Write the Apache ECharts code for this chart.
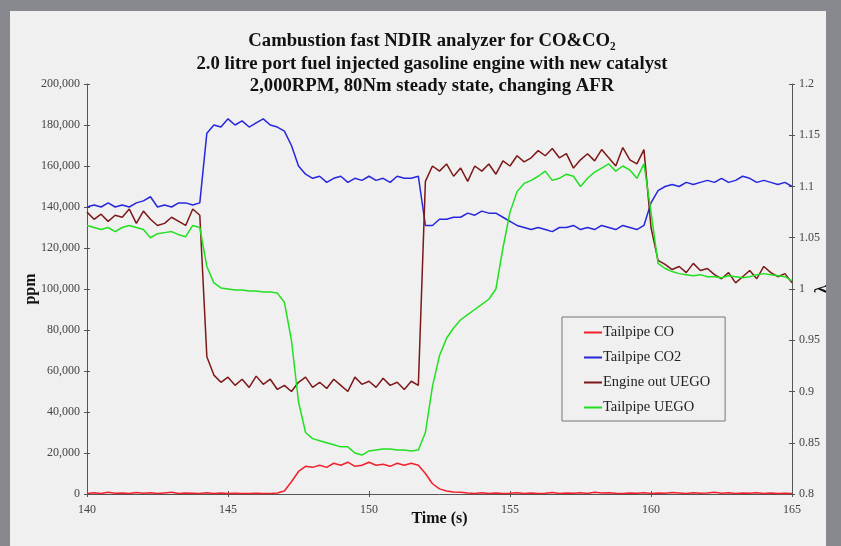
<!DOCTYPE html>
<html>
<head>
<meta charset="utf-8">
<script src="https://cdn.jsdelivr.net/npm/echarts@6/dist/echarts.min.js"></script>
<style>
  html, body { margin: 0; padding: 0; background: #88898e; overflow: hidden; }
  #chart { width: 841px; height: 546px; }
</style>
</head>
<body>
<div id="chart"></div>
<script>
// sample times (s), 0.25 s apart
var times = [
  140.00, 140.25, 140.50, 140.75, 141.00, 141.25, 141.50, 141.75, 142.00, 142.25,
  142.50, 142.75, 143.00, 143.25, 143.50, 143.75, 144.00, 144.25, 144.50, 144.75,
  145.00, 145.25, 145.50, 145.75, 146.00, 146.25, 146.50, 146.75, 147.00, 147.25,
  147.50, 147.75, 148.00, 148.25, 148.50, 148.75, 149.00, 149.25, 149.50, 149.75,
  150.00, 150.25, 150.50, 150.75, 151.00, 151.25, 151.50, 151.75, 152.00, 152.25,
  152.50, 152.75, 153.00, 153.25, 153.50, 153.75, 154.00, 154.25, 154.50, 154.75,
  155.00, 155.25, 155.50, 155.75, 156.00, 156.25, 156.50, 156.75, 157.00, 157.25,
  157.50, 157.75, 158.00, 158.25, 158.50, 158.75, 159.00, 159.25, 159.50, 159.75,
  160.00, 160.25, 160.50, 160.75, 161.00, 161.25, 161.50, 161.75, 162.00, 162.25,
  162.50, 162.75, 163.00, 163.25, 163.50, 163.75, 164.00, 164.25, 164.50, 164.75,
  165.00
];

// ppm
var tailpipeCO = [
  300, 600, 200, 800, 400, 500, 300, 700, 400, 600,
  200, 500, 800, 300, 500, 400, 200, 600, 300, 500,
  200, 400, 300, 200, 400, 300, 300, 500, 1500, 6000,
  11000, 13500, 13000, 14000, 13000, 15000, 14000, 15500, 13500, 14000,
  15500, 14000, 14500, 13500, 15000, 14000, 15000, 14000, 10000, 5000,
  2500, 1500, 1000, 800, 500, 300, 600, 200, 500, 300,
  400, 600, 200, 500, 300, 400, 700, 300, 500, 400,
  600, 300, 800, 500, 600, 400, 300, 500, 400, 600,
  300, 500, 400, 700, 500, 300, 600, 400, 500, 800,
  400, 600, 300, 500, 400, 600, 300, 500, 200, 400,
  300
];

var tailpipeCO2 = [
  140000, 141000, 140000, 142000, 140000, 141000, 140000, 142000, 143000, 145000,
  140000, 141000, 140000, 142000, 142000, 141000, 142000, 176000, 180000, 179000,
  183000, 180000, 182000, 179000, 181000, 183000, 180000, 179000, 177000, 170000,
  160000, 156000, 154000, 155000, 152000, 154000, 155000, 152000, 154000, 153000,
  155000, 153000, 154000, 152000, 155000, 154000, 154000, 155000, 131000, 131000,
  134000, 134000, 135000, 135000, 137000, 136000, 138000, 137000, 137000, 135000,
  133000, 131000, 130000, 129000, 130000, 129000, 128000, 130000, 130000, 131000,
  129000, 130000, 129000, 131000, 130000, 129000, 131000, 130000, 129000, 131000,
  142000, 148000, 150000, 151000, 150000, 152000, 151000, 152000, 153000, 152000,
  154000, 152000, 153000, 155000, 154000, 152000, 153000, 152000, 151000, 152000,
  150000
];

// lambda
var engineOutUEGO = [
  1.075, 1.068, 1.073, 1.066, 1.072, 1.070, 1.078, 1.064, 1.076, 1.068,
  1.062, 1.064, 1.070, 1.066, 1.062, 1.078, 1.072, 0.934, 0.916, 0.909,
  0.914, 0.906, 0.912, 0.904, 0.915, 0.907, 0.912, 0.902, 0.906, 0.900,
  0.909, 0.914, 0.904, 0.909, 0.903, 0.912, 0.906, 0.900, 0.914, 0.907,
  0.910, 0.904, 0.913, 0.906, 0.909, 0.902, 0.910, 0.906, 1.105, 1.120,
  1.115, 1.122, 1.110, 1.118, 1.105, 1.120, 1.115, 1.122, 1.112, 1.125,
  1.120, 1.130, 1.124, 1.128, 1.135, 1.130, 1.137, 1.128, 1.132, 1.118,
  1.126, 1.132, 1.125, 1.136, 1.128, 1.120, 1.138, 1.126, 1.122, 1.136,
  1.060, 1.028, 1.024, 1.019, 1.022, 1.016, 1.025, 1.018, 1.020, 1.014,
  1.010, 1.016, 1.006, 1.012, 1.018, 1.010, 1.022, 1.016, 1.012, 1.015,
  1.006
];

var tailpipeUEGO = [
  1.062, 1.060, 1.058, 1.060, 1.056, 1.060, 1.062, 1.060, 1.058, 1.050,
  1.054, 1.055, 1.056, 1.053, 1.051, 1.062, 1.060, 1.022, 1.006, 1.001,
  1.000, 0.999, 0.999, 0.998, 0.998, 0.997, 0.997, 0.996, 0.987, 0.950,
  0.890, 0.860, 0.854, 0.852, 0.850, 0.848, 0.846, 0.846, 0.840, 0.838,
  0.842, 0.843, 0.844, 0.844, 0.843, 0.843, 0.842, 0.843, 0.860, 0.905,
  0.935, 0.952, 0.962, 0.970, 0.975, 0.980, 0.985, 0.990, 1.000, 1.040,
  1.075, 1.095, 1.103, 1.106, 1.110, 1.115, 1.106, 1.108, 1.112, 1.110,
  1.100, 1.108, 1.114, 1.118, 1.122, 1.115, 1.120, 1.116, 1.108, 1.122,
  1.075, 1.025, 1.020, 1.017, 1.015, 1.014, 1.013, 1.014, 1.012, 1.012,
  1.011, 1.013, 1.012, 1.011, 1.012, 1.014, 1.015, 1.014, 1.013, 1.012,
  1.008
];

var seriesNames = ['Tailpipe CO', 'Tailpipe CO2', 'Engine out UEGO', 'Tailpipe UEGO'];
var seriesColors = ['#f0202c', '#2626dc', '#7c1818', '#20e020'];

var titleLines = [
  'Cambustion fast NDIR analyzer for CO&CO\u2082',
  '2.0 litre port fuel injected gasoline engine with new catalyst',
  '2,000RPM, 80Nm steady state, changing AFR'
];

function pairs(vals) {
  return vals.map(function (v, i) { return [times[i], v]; });
}

var serif = '"Liberation Serif", "DejaVu Serif", serif';

var myChart = echarts.init(document.getElementById('chart'));

var tickLabel = { fontFamily: serif, fontSize: 12, color: '#444' };
var axisLine = { show: true, lineStyle: { color: '#555', width: 1 } };
var nameStyle = { fontFamily: serif, fontSize: 16, fontWeight: 'bold', color: '#111' };

var option = {
  backgroundColor: 'transparent',
  animation: false,
  graphic: [
    { type: 'rect', z: -10, shape: { x: 10, y: 11, width: 816, height: 540 }, style: { fill: '#f0f0f0' } }
  ],
  title: {
    text: titleLines.join('\n'),
    left: 427,
    top: 25,
    textAlign: 'center',
    textStyle: { fontFamily: serif, fontSize: 18.7, fontWeight: 'bold', color: '#111', lineHeight: 22.5 }
  },
  legend: {
    data: seriesNames,
    orient: 'vertical',
    left: 562,
    top: 317,
    padding: [8, 15, 6, 22],
    itemGap: 10,
    itemWidth: 18,
    itemHeight: 2,
    icon: 'rect',
    borderColor: '#777',
    borderWidth: 1,
    textStyle: { fontFamily: serif, fontSize: 14.5, color: '#222', padding: [0, 0, 0, -4] }
  },
  grid: { left: 87, right: 49, top: 84, bottom: 52, containLabel: false, outerBoundsMode: 'none' },
  xAxis: [
    {
      type: 'value', min: 140, max: 165, interval: 5,
      name: 'Time (s)', nameLocation: 'middle', nameGap: 17, nameMoveOverlap: false,
      nameTextStyle: nameStyle,
      axisLine: axisLine,
      axisTick: { show: true, length: 3, lineStyle: { color: '#555' } },
      axisLabel: Object.assign({ margin: 10 }, tickLabel),
      splitLine: { show: false }
    },
    {
      type: 'value', min: 140, max: 165, interval: 5, position: 'bottom',
      axisLine: { show: false },
      axisTick: { show: true, inside: true, length: 3, lineStyle: { color: '#555' } },
      axisLabel: { show: false },
      splitLine: { show: false }
    }
  ],
  yAxis: [
    {
      type: 'value', min: 0, max: 200000, interval: 20000, position: 'left',
      name: 'ppm', nameLocation: 'middle', nameGap: 48, nameRotate: 90, nameMoveOverlap: false,
      nameTextStyle: nameStyle,
      axisLine: axisLine,
      axisTick: { show: true, length: 3, lineStyle: { color: '#555' } },
      axisLabel: Object.assign({
        margin: 7,
        formatter: function (v) { return v.toLocaleString('en-US'); }
      }, tickLabel),
      splitLine: { show: false }
    },
    {
      type: 'value', min: 0.8, max: 1.2, interval: 0.05, position: 'right',
      name: '\u03bb', nameLocation: 'middle', nameGap: 22, nameRotate: 90, nameMoveOverlap: false,
      nameTextStyle: nameStyle,
      axisLine: axisLine,
      axisTick: { show: true, length: 3, lineStyle: { color: '#555' } },
      axisLabel: Object.assign({
        margin: 7,
        formatter: function (v) { return String(+v.toFixed(2)); }
      }, tickLabel),
      splitLine: { show: false }
    },
    {
      type: 'value', min: 0, max: 200000, interval: 20000, position: 'left',
      axisLine: { show: false },
      axisTick: { show: true, inside: true, length: 3, lineStyle: { color: '#555' } },
      axisLabel: { show: false },
      splitLine: { show: false }
    },
    {
      type: 'value', min: 0.8, max: 1.2, interval: 0.05, position: 'right',
      axisLine: { show: false },
      axisTick: { show: true, inside: true, length: 3, lineStyle: { color: '#555' } },
      axisLabel: { show: false },
      splitLine: { show: false }
    }
  ],
  series: [
    { name: seriesNames[0], type: 'line', yAxisIndex: 0, data: pairs(tailpipeCO) },
    { name: seriesNames[1], type: 'line', yAxisIndex: 0, data: pairs(tailpipeCO2) },
    { name: seriesNames[2], type: 'line', yAxisIndex: 1, data: pairs(engineOutUEGO) },
    { name: seriesNames[3], type: 'line', yAxisIndex: 1, data: pairs(tailpipeUEGO) }
  ].map(function (s, i) {
    s.showSymbol = false;
    s.symbol = 'none';
    s.color = seriesColors[i];
    s.lineStyle = { color: seriesColors[i], width: 1.5 };
    return s;
  })
};

myChart.setOption(option);
</script>
</body>
</html>
